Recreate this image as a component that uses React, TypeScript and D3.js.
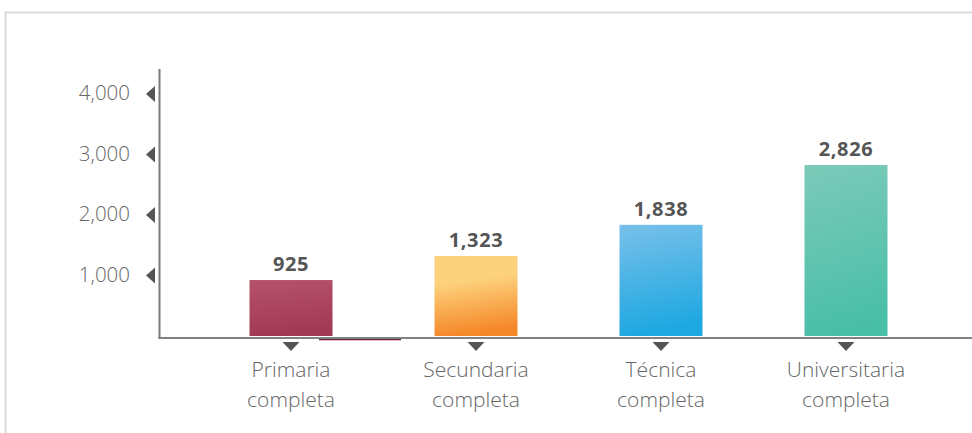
import * as d3 from "d3";

const categories = ["Primaria completa", "Secundaria completa", "Técnica completa", "Universitaria completa"];
const values = [925, 1323, 1838, 2826];
const yTicks = [1000, 2000, 3000, 4000];
const barColors = [
  ["#b6526c", "#a23954"],
  ["#fdd27d", "#f5892a"],
  ["#78c0ea", "#1ea8e1"],
  ["#7ccab9", "#4abfa8"],
];

const W = 972;
const H = 433;
const barWidth = 83;

export default function App() {
  const x = d3.scalePoint<string>().domain(categories).range([291, 846]);
  const y = d3.scaleLinear().domain([0, 4000]).range([336, 94]);
  const fmt = d3.format(",");
  const axisX = 159.5;
  const baseY = y(0) + 2;
  const labelFont = "'Open Sans', sans-serif";

  return (
    <svg width={W} height={H} style={{ position: "absolute", left: 0, top: 0, background: "#fff" }}>
      <defs>
        {barColors.map((c, i) => (
          <linearGradient key={i} id={`g${i}`} x1="0" y1="0" x2="0.15" y2="1">
            <stop offset="0" stopColor={c[0]} />
            <stop offset={i === 1 ? 0.35 : 0} stopColor={c[0]} />
            <stop offset="1" stopColor={c[1]} />
          </linearGradient>
        ))}
      </defs>

      {/* frame */}
      <rect x={5.5} y={12.5} width={W + 20} height={H + 20} fill="none" stroke="#dcdcdc" strokeWidth={2} />

      {/* y axis */}
      <line x1={axisX} x2={axisX} y1={69} y2={baseY + 1} stroke="#7a7a7a" strokeWidth={2} />
      {yTicks.map((t) => (
        <g key={t} transform={`translate(0,${y(t)})`}>
          <path d={`M146,0 L155,-8 L155,8 Z`} fill="#555" />
          <text x={130} dy="0.3em" textAnchor="end" fontFamily={labelFont} fontWeight={300}
            fontSize={20.5} fill="#666">{fmt(t)}</text>
        </g>
      ))}

      {/* bars */}
      {categories.map((c, i) => (
        <rect key={c} x={x(c)! - barWidth / 2} y={y(values[i])} width={barWidth}
          height={y(0) - y(values[i])} fill={`url(#g${i})`} />
      ))}

      {/* value labels */}
      {categories.map((c, i) => (
        <text key={c} x={x(c)} y={y(values[i]) - 9} textAnchor="middle"
          fontFamily="'Open Sans', sans-serif" fontWeight={700} fontSize={20} fill="#555"
          letterSpacing={0.6}>{fmt(values[i])}</text>
      ))}

      {/* baseline */}
      <line x1={axisX - 1} x2={W} y1={baseY} y2={baseY} stroke="#808080" strokeWidth={2} />
      <line x1={x(categories[0])! + 28} x2={x(categories[0])! + 110} y1={baseY + 1.6} y2={baseY + 1.6}
        stroke="#6d1f35" strokeWidth={1.2} />

      {/* x ticks and labels */}
      {categories.map((c) => {
        const cx = x(c)!;
        const parts = c.split(" ");
        return (
          <g key={c}>
            <path d={`M${cx - 8.5},${baseY + 4} L${cx + 8.5},${baseY + 4} L${cx},${baseY + 13} Z`} fill="#555" />
            {parts.map((p, j) => (
              <text key={j} x={cx} y={baseY + 39 + j * 30} textAnchor="middle" fontFamily={labelFont}
                fontWeight={300} fontSize={21} fill="#666">{p}</text>
            ))}
          </g>
        );
      })}
    </svg>
  );
}
